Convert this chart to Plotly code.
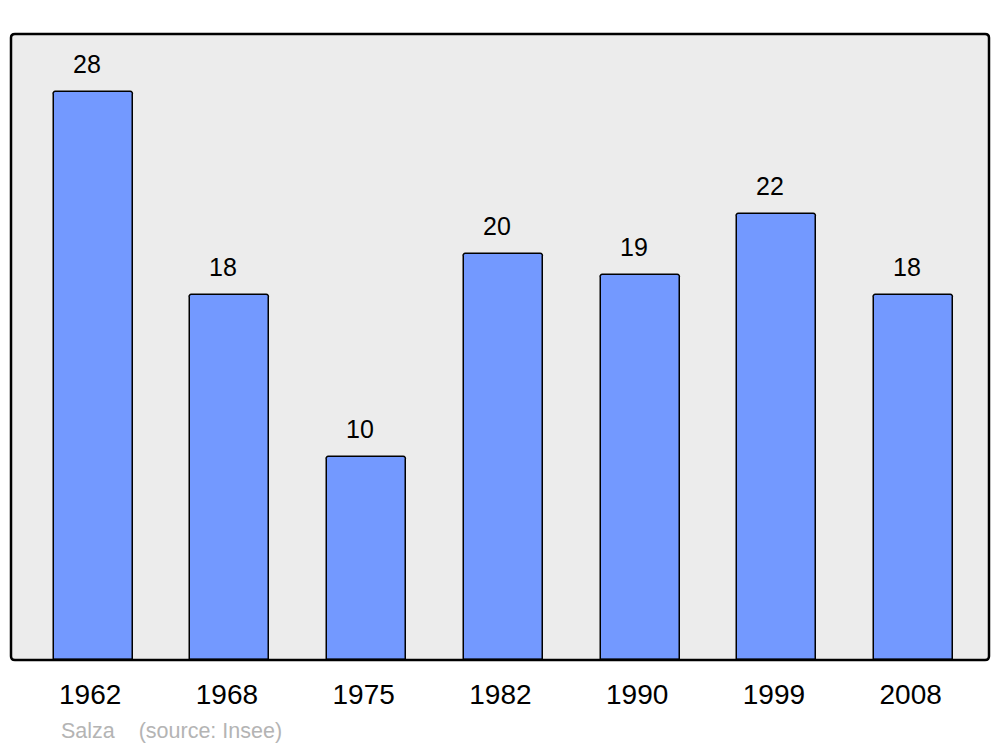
import plotly.graph_objects as go

years = ["1962", "1968", "1975", "1982", "1990", "1999", "2008"]
population = [28, 18, 10, 20, 19, 22, 18]
place = "Salza"
source = "(source: Insee)"

idx = list(range(len(years)))
FONT = "Liberation Sans, Arial"

fig = go.Figure()
fig.add_trace(go.Bar(
    x=idx, y=population, width=0.578,
    marker=dict(color="#7399FF", line=dict(color="black", width=1.5), cornerradius=3),
    hoverinfo="skip",
))

for i, v in zip(idx, population):
    fig.add_annotation(x=i, y=v, text=str(v), showarrow=False, yshift=28, xshift=-6.5,
                       font=dict(family=FONT, size=25, color="black"))

fig.add_annotation(xref="paper", yref="paper", x=0.049, y=-0.1135, xanchor="left", yanchor="middle",
                   text=place + "&nbsp;&nbsp;&nbsp;&nbsp;" + source, showarrow=False,
                   font=dict(family=FONT, size=21.5, color="#B4B4B4"))

# rounded border
r_x, r_y = 0.004, 0.006
path = (f"M {r_x},0 L {1-r_x},0 Q 1,0 1,{r_y} L 1,{1-r_y} Q 1,1 {1-r_x},1 "
        f"L {r_x},1 Q 0,1 0,{1-r_y} L 0,{r_y} Q 0,0 {r_x},0 Z")
fig.add_shape(type="path", xref="paper", yref="paper", path=path,
              line=dict(color="black", width=2.5), layer="above")

fig.update_layout(
    width=1000, height=747,
    margin=dict(l=11, r=11, t=34, b=87),
    paper_bgcolor="white", plot_bgcolor="#ECECEC",
    showlegend=False,
    xaxis=dict(range=[-0.601, 6.551], tickvals=idx, ticktext=years, showgrid=False,
               zeroline=False, ticks="", ticklabelshift=-3, ticklabelstandoff=15,
               tickfont=dict(family=FONT, size=28, color="black")),
    yaxis=dict(range=[0, 30.86], showgrid=False, zeroline=False, showticklabels=False, ticks=""),
    bargap=0,
)

fig.write_html("out.html", config={"displayModeBar": False},
               post_script="document.body.style.margin='0';document.body.style.overflow='hidden';")
